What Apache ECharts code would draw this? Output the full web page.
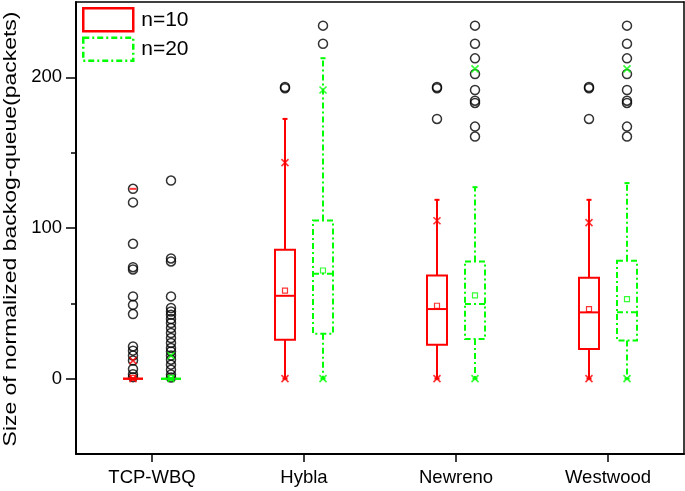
<!DOCTYPE html>
<html><head><meta charset="utf-8">
<script src="https://cdn.jsdelivr.net/npm/echarts@6/dist/echarts.min.js"></script>
<style>html,body{margin:0;padding:0;background:#fff}#c{width:685px;height:491px}</style>
</head><body><div id="c"></div>
<script>
const categories = ['TCP-WBQ', 'Hybla', 'Newreno', 'Westwood'];
const yTickLabels = [0, 100, 200];
const yMinorTicks = [50, 150];

// n=10
const n10Low = [0, 0, 0, 0];
const n10Q1 = [0, 25.9, 22.5, 19.7];
const n10Median = [0, 55, 46.2, 44];
const n10Q3 = [0, 85.5, 68.5, 67];
const n10High = [0, 172.4, 118.7, 118.7];
const n10Mean = [0.5, 58.4, 48.4, 46.2];
const n10P1 = [0, 0, 0, 0];
const n10P99 = [12, 143.4, 104.8, 103.6];
const n10MaxMark = [126, null, null, null];
const n10Outliers = [
  [126, 117, 89.5, 74, 72.5, 54.6, 49, 42.9, 21.4, 18.6, 15.3, 12, 6.4, 3, 1],
  [193.6, 192.8],
  [193.6, 192.8, 172.4],
  [193.6, 192.8, 172.4]
];

// n=20
const n20Low = [0, 0, 0, 0];
const n20Q1 = [0, 29.8, 26.3, 25.4];
const n20Median = [0, 69.6, 49.5, 44];
const n20Q3 = [0, 105, 77.8, 78.2];
const n20High = [0, 212.7, 127.1, 129.8];
const n20Mean = [0.5, 71.8, 55.3, 52.8];
const n20P1 = [0, 0, 0, 0];
const n20P99 = [15.3, 191.6, 205.6, 205.6];
const n20Outliers = [
  [131.5, 79.8, 77.8, 54.6, 46.9, 44.6, 42.4, 39.6, 36.9, 33.6, 30.3, 27, 23.7, 20.4, 18.1, 15.3, 12.6, 9.3, 6, 2.7, 0.8],
  [234.3, 222.3],
  [234.3, 222.3, 212.6, 202.2, 191.6, 184.5, 183, 167.3, 160.7],
  [234.3, 222.3, 212.6, 202.2, 191.6, 184.5, 183, 167.3, 160.7]
];

const RED = '#ff0000';
const GREEN = '#00ff00';
const OFFSET = 19;
const HALF = 10;
const DASHDOT = [6, 3, 2, 3];
const FONT = '"Liberation Sans", Arial, sans-serif';

function boxData(low, q1, med, q3, high) {
  return categories.map((c, i) => [i, low[i], q1[i], med[i], q3[i], high[i]]);
}
function pts(arr) {
  const out = [];
  arr.forEach((v, i) => { if (v !== null && v !== undefined) out.push([i, v]); });
  return out;
}
function outPts(lists) {
  const out = [];
  lists.forEach((l, i) => l.forEach(v => out.push([i, v])));
  return out;
}
function makeRender(color, dash, sign) {
  return function (params, api) {
    const i = api.value(0);
    const x = api.coord([i, 0])[0] + sign * OFFSET;
    const y = v => api.coord([i, v])[1];
    const yl = y(api.value(1)), y1 = y(api.value(2)), ym = y(api.value(3)), y3 = y(api.value(4)), yh = y(api.value(5));
    const st = { stroke: color, lineWidth: 2, lineDash: dash, fill: null };
    return {
      type: 'group',
      children: [
        { type: 'line', shape: { x1: x, y1: y3, x2: x, y2: yh }, style: st },
        { type: 'line', shape: { x1: x, y1: y1, x2: x, y2: yl }, style: st },
        { type: 'line', shape: { x1: x - 2.5, y1: yh, x2: x + 2.5, y2: yh }, style: { stroke: color, lineWidth: 2 } },
        { type: 'line', shape: { x1: x - 2.5, y1: yl, x2: x + 2.5, y2: yl }, style: { stroke: color, lineWidth: 2 } },
        { type: 'rect', shape: { x: x - HALF, y: y3, width: 2 * HALF, height: Math.max(y1 - y3, 0) }, style: { stroke: color, lineWidth: 2, lineDash: dash, fill: 'rgba(0,0,0,0)' } },
        { type: 'line', shape: { x1: x - HALF, y1: ym, x2: x + HALF, y2: ym }, style: st }
      ]
    };
  };
}
const crossPath = 'path://M0 0L10 10M10 0L0 10';
function markerSeries(data, color, sign, kind) {
  const base = { type: 'scatter', data: data, silent: true, symbolOffset: [sign * OFFSET, 0], z: 5, animation: false };
  if (kind === 'cross') return Object.assign(base, { symbol: crossPath, symbolSize: 7, itemStyle: { color: 'rgba(0,0,0,0)', borderColor: color, borderWidth: 1.6 } });
  if (kind === 'mean') return Object.assign(base, { symbol: 'rect', symbolSize: 5, itemStyle: { color: 'rgba(0,0,0,0)', borderColor: color, borderWidth: 1.2 } });
  if (kind === 'dash') return Object.assign(base, { symbol: 'rect', symbolSize: [7, 2], itemStyle: { color: color } });
  return Object.assign(base, { symbol: 'circle', symbolSize: 9, z: 3, itemStyle: { color: 'rgba(0,0,0,0)', borderColor: '#000', borderWidth: 1.5 } });
}

const chart = echarts.init(document.getElementById('c'), null, { renderer: 'canvas' });
chart.setOption({
  animation: false,
  backgroundColor: '#fff',
  grid: { left: 76, right: 1, top: 2, bottom: 37 },
  legend: {
    orient: 'vertical', left: 82, top: 7, padding: 0, itemWidth: 50, itemHeight: 23, itemGap: 4,
    icon: 'rect', selectedMode: false,
    textStyle: { fontSize: 21, color: '#000', fontFamily: FONT, padding: [0, 0, 0, 3] },
    data: [
      { name: 'n=10', itemStyle: { color: 'rgba(0,0,0,0)', borderColor: RED, borderWidth: 2.5 } },
      { name: 'n=20', itemStyle: { color: 'rgba(0,0,0,0)', borderColor: GREEN, borderWidth: 2.5, borderType: DASHDOT } }
    ]
  },
  xAxis: [
    {
      type: 'category', data: categories, boundaryGap: true, position: 'bottom',
      axisLine: { show: true, onZero: false, lineStyle: { color: '#000', width: 2 } },
      axisTick: { show: true, inside: false, alignWithLabel: true, interval: 0, length: 8, lineStyle: { color: '#000', width: 1.5 } },
      axisLabel: { fontSize: 18.5, color: '#000', fontFamily: FONT, margin: 14 },
      splitLine: { show: false }
    },
    {
      type: 'category', data: categories, position: 'top',
      axisLine: { show: true, onZero: false, lineStyle: { color: '#000', width: 1.5 } },
      axisTick: { show: false }, axisLabel: { show: false }, splitLine: { show: false }
    }
  ],
  yAxis: [
    {
      type: 'value', min: -50, max: 250, interval: 50, position: 'left',
      axisLine: { show: true, onZero: false, lineStyle: { color: '#000', width: 2 } },
      axisTick: { show: true, customValues: yTickLabels, length: 10, lineStyle: { color: '#000', width: 1.5 } },
      axisLabel: { customValues: yTickLabels, fontSize: 18.5, color: '#000', fontFamily: FONT, margin: 14 },
      splitLine: { show: false }
    },
    {
      type: 'value', min: -50, max: 250, interval: 50, position: 'left', offset: 0,
      axisLine: { show: false, onZero: false },
      axisTick: { show: true, customValues: yMinorTicks, length: 5, lineStyle: { color: '#000', width: 1.5 } },
      axisLabel: { show: false }, splitLine: { show: false }
    },
    {
      type: 'value', min: -50, max: 250, interval: 50, position: 'right',
      axisLine: { show: true, onZero: false, lineStyle: { color: '#000', width: 1.5 } },
      axisTick: { show: false }, axisLabel: { show: false }, splitLine: { show: false }
    }
  ],
  graphic: [{
    type: 'text', x: 11, y: 229, rotation: Math.PI / 2, scaleX: 1.24, scaleY: 1,
    style: { text: 'Size of normalized backog-queue(packets)', font: '18.5px ' + FONT, fill: '#000', textAlign: 'center', textVerticalAlign: 'middle' }
  }],
  series: [
    markerSeries(outPts(n10Outliers), RED, -1, 'outlier'),
    markerSeries(outPts(n20Outliers), GREEN, 1, 'outlier'),
    { name: 'n=10', type: 'custom', data: boxData(n10Low, n10Q1, n10Median, n10Q3, n10High), encode: { x: 0, y: [1, 2, 3, 4, 5] }, renderItem: makeRender(RED, null, -1), itemStyle: { color: RED }, z: 4, silent: true },
    { name: 'n=20', type: 'custom', data: boxData(n20Low, n20Q1, n20Median, n20Q3, n20High), encode: { x: 0, y: [1, 2, 3, 4, 5] }, renderItem: makeRender(GREEN, DASHDOT, 1), itemStyle: { color: GREEN }, z: 4, silent: true },
    markerSeries(pts(n10P99), RED, -1, 'cross'),
    markerSeries(pts(n10P1), RED, -1, 'cross'),
    markerSeries(pts(n20P99), GREEN, 1, 'cross'),
    markerSeries(pts(n20P1), GREEN, 1, 'cross'),
    markerSeries(pts(n10Mean), RED, -1, 'mean'),
    markerSeries(pts(n20Mean), GREEN, 1, 'mean'),
    markerSeries(pts(n10MaxMark), RED, -1, 'dash')
  ]
});
</script></body></html>
